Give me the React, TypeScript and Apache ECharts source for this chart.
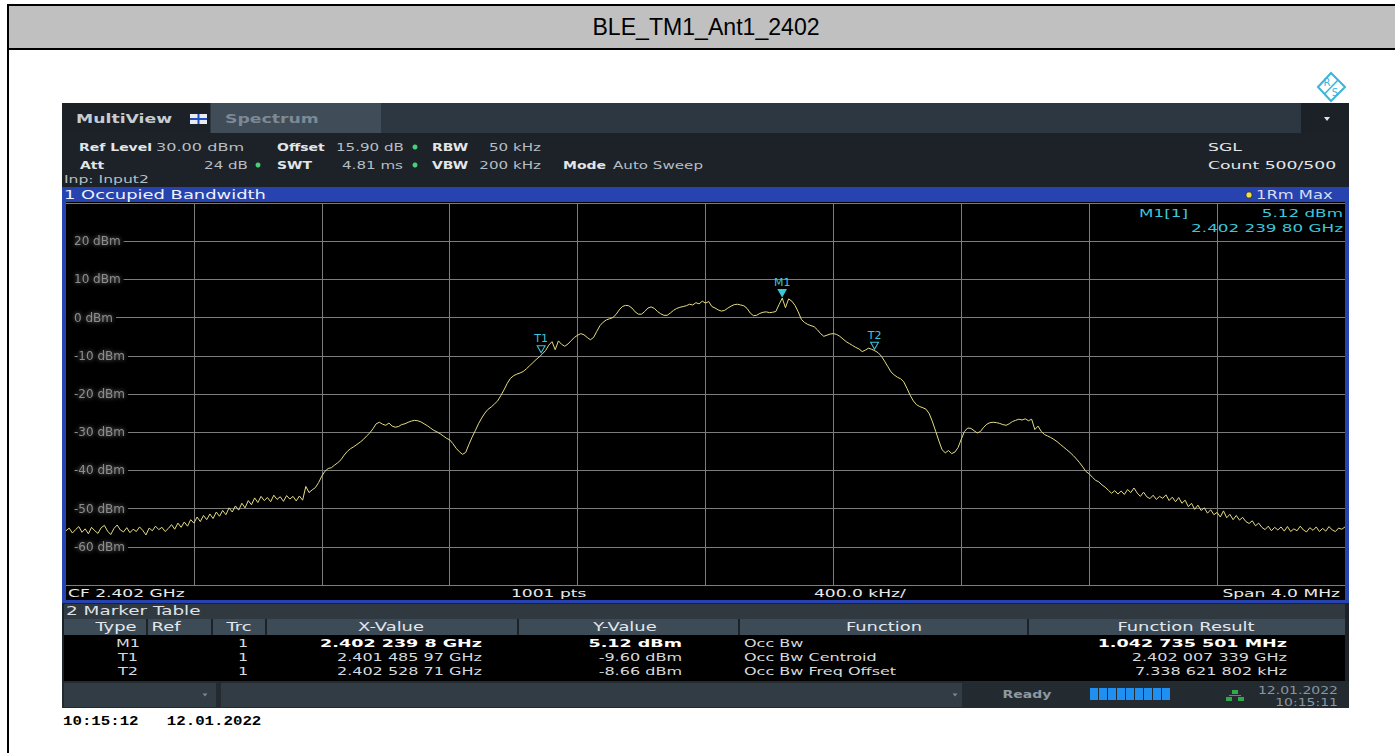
import React, { useEffect, useRef } from "react";
import * as echarts from "echarts";

// ---------------- data ----------------
const chartTitle = "BLE_TM1_Ant1_2402";
const startFreqMHz = 2400;
const stopFreqMHz = 2404;
const divisionMHz = 0.4;
const refLevelDbm = 30;
const bottomLevelDbm = -70;
const levelStepDb = 10;

// trace (max hold), 401 sweep points over the 4 MHz span (10 kHz apart)
const traceDbm: number[] = [
  -55.8, -55.1, -56.4, -55.5, -54.7, -56.2, -55.3, -56.6, -54.9, -55.8,
  -56.5, -55.0, -54.4, -55.9, -56.8, -55.2, -54.3, -55.6, -56.1, -55.0,
  -56.3, -55.4, -56.0, -54.8, -55.7, -56.9, -55.1, -55.8, -54.6, -55.5,
  -54.9, -56.0, -55.2, -54.2, -55.4, -53.8, -54.9, -53.5, -54.6, -52.9,
  -53.8, -52.2, -53.4, -51.8, -52.9, -51.4, -52.6, -50.9, -52.0, -50.5,
  -51.6, -49.8, -50.9, -49.3, -50.4, -48.6, -49.8, -47.9, -49.0, -47.2,
  -48.4, -46.8, -47.9, -47.1, -48.2, -46.5, -47.6, -46.9, -48.1, -46.6,
  -47.5, -46.8, -48.0, -46.7, -47.8, -44.2, -45.8, -45.1, -44.5, -43.2,
  -41.5, -40.2, -39.5, -39.3, -38.6, -38.0, -37.2, -36.0, -35.0, -34.3,
  -33.8, -33.2, -32.6, -31.9, -31.0, -30.2, -29.1, -27.8, -27.4, -27.9,
  -28.2, -27.6, -28.4, -28.7, -28.5, -28.0, -27.8, -27.4, -27.1, -26.9,
  -27.0, -27.3, -27.8, -28.3, -28.9, -29.5, -29.9, -30.4, -31.0, -31.6,
  -32.0, -33.0, -34.2, -35.1, -35.8, -35.3, -33.2, -31.3, -29.6, -27.8,
  -26.3, -25.0, -24.0, -23.4, -22.6, -21.8, -20.4, -18.9, -17.2, -15.9,
  -15.2, -14.8, -14.5, -14.1, -13.4, -12.6, -11.8, -11.0, -10.3, -9.5,
  -8.6, -7.2, -6.3, -8.4, -6.1, -7.0, -7.5, -6.9, -6.0, -5.2,
  -4.6, -4.2, -4.5, -5.2, -5.8, -5.2, -3.6, -2.1, -1.2, -0.6,
  -0.3, 0.0, 0.8, 2.0, 2.9, 3.2, 3.1, 2.5, 1.5, 0.9,
  0.9, 1.6, 2.5, 2.8, 2.4, 1.6, 1.0, 0.6, 0.6, 1.2,
  1.9, 2.4, 2.7, 2.9, 3.1, 3.5, 3.3, 3.9, 3.6, 4.3,
  3.8, 4.2, 2.9, 2.5, 2.0, 1.7, 1.9, 2.5, 3.0, 3.4,
  3.5, 3.3, 3.1, 2.4, 1.2, 0.5, 0.6, 1.1, 1.4, 1.5,
  1.3, 1.4, 1.6, 3.4, 5.1, 2.6, 4.9, 4.3, 3.2, 1.5,
  -0.5, -1.3, -1.8, -2.1, -2.4, -3.2, -4.2, -4.9, -4.6, -4.3,
  -4.2, -4.4, -4.9, -5.6, -6.3, -6.8, -7.3, -7.8, -8.2, -8.9,
  -8.5, -8.0, -8.3, -8.7, -9.2, -10.1, -11.4, -12.8, -14.2, -15.0,
  -15.6, -16.0, -16.8, -18.5, -20.3, -21.8, -22.8, -23.3, -23.6, -24.0,
  -25.2, -27.3, -29.8, -32.3, -34.6, -35.4, -34.8, -35.6, -35.2, -34.0,
  -31.8, -29.8, -28.9, -29.0, -29.6, -30.2, -29.8, -28.7, -27.9, -27.5,
  -27.4, -27.5, -27.7, -28.0, -28.2, -27.8, -27.2, -26.9, -26.6, -26.8,
  -26.5, -27.0, -26.6, -29.3, -28.4, -29.8, -30.6, -31.0, -31.4, -31.9,
  -32.5, -33.2, -33.9, -34.6, -35.3, -36.1, -37.0, -38.0, -39.1, -40.3,
  -40.9, -41.8, -42.6, -43.0, -43.8, -44.4, -45.2, -46.0, -45.3, -46.2,
  -45.4, -46.3, -45.0, -45.8, -44.6, -45.9, -46.8, -45.7, -46.9, -47.4,
  -46.5, -47.6, -46.8, -47.3, -46.4, -47.9, -47.0, -48.2, -47.1, -48.6,
  -47.8, -49.5, -48.6, -50.2, -49.1, -50.5, -49.8, -51.2, -50.3, -51.6,
  -51.0, -52.2, -50.6, -52.4, -51.5, -52.9, -51.8, -53.0, -52.3, -53.4,
  -53.9, -53.2, -54.5, -53.8, -54.9, -55.5, -54.6, -55.8, -54.9, -55.6,
  -54.8, -55.9, -54.7, -56.0, -55.3, -55.8, -54.6, -55.6, -56.1, -55.0,
  -55.7, -54.8, -56.0, -55.2, -55.9, -54.7, -55.6, -56.0, -55.1, -55.4,
  -54.8,
];

const markerNames = ["M1", "T1", "T2"];
const markerFreqMHz = [2402.2398, 2401.48597, 2402.52871];
const markerLevelDbm = [5.12, -9.6, -8.66];
const markerFilled = [true, false, false];

const tableHeaders = ["Type", "Ref", "Trc", "X-Value", "Y-Value", "Function", "Function Result"];
const tableTrc = ["1", "1", "1"];
const tableXText = ["2.402 239 8 GHz", "2.401 485 97 GHz", "2.402 528 71 GHz"];
const tableYText = ["5.12 dBm", "-9.60 dBm", "-8.66 dBm"];
const tableFunction = ["Occ Bw", "Occ Bw Centroid", "Occ Bw Freq Offset"];
const tableResult = ["1.042 735 501 MHz", "2.402 007 339 GHz", "7.338 621 802 kHz"];

// ---------------- helpers ----------------
const FONT = "DejaVu Sans";
const CYAN = "#3cc6da";

function tx(x: number, y: number, text: string, o: any = {}) {
  return {
    type: "text",
    x,
    y,
    scaleY: o.sy ?? 0.78,
    scaleX: o.sx ?? 1,
    z: o.z ?? 5,
    silent: true,
    style: {
      text,
      fill: o.c ?? "#d8dde2",
      fontSize: o.s ?? 14,
      fontWeight: o.b ? "bold" : "normal",
      fontFamily: o.f ?? FONT,
      align: o.a ?? "left",
      verticalAlign: "middle",
    },
  };
}
function rc(x: number, y: number, w: number, h: number, fill: string, o: any = {}) {
  return {
    type: "rect",
    z: o.z ?? 1,
    silent: true,
    shape: { x, y, width: w, height: h },
    style: { fill, stroke: o.stroke ?? null, lineWidth: o.lw ?? 0 },
  };
}
function ln(x1: number, y1: number, x2: number, y2: number, stroke: string, lw = 1, z = 2) {
  return { type: "line", z, silent: true, shape: { x1, y1, x2, y2 }, style: { stroke, lineWidth: lw } };
}
function tri(cx: number, cy: number, fill: string, w = 7, h = 4, z = 5) {
  return {
    type: "polygon",
    z,
    silent: true,
    shape: { points: [[cx - w / 2, cy - h / 2], [cx + w / 2, cy - h / 2], [cx, cy + h / 2]] },
    style: { fill },
  };
}
function dot(cx: number, cy: number, r: number, fill: string, stroke: string | null = null) {
  return { type: "circle", z: 5, silent: true, shape: { cx, cy, r }, style: { fill, stroke, lineWidth: 1 } };
}

function buildGraphic() {
  const g: any[] = [];
  // document chrome
  g.push(rc(8, 5, 1390, 44, "#c0c0c0", { stroke: "#000", lw: 2 }));
  g.push(ln(8, 49, 8, 753, "#000", 2));
  g.push(tx(706, 27, chartTitle, { s: 21, f: "Liberation Sans", c: "#000", sy: 1.12, sx: 1.1, a: "center" }));

  // R&S logo
  g.push({
    type: "polygon", z: 2, silent: true,
    shape: { points: [[1318, 87], [1331, 73], [1345, 87], [1331, 101]] },
    style: { fill: "#fff", stroke: "#3ab4dc", lineWidth: 2 },
  });
  g.push(ln(1324.5, 94, 1338, 80, "#3ab4dc", 1.5, 3));
  g.push(tx(1327, 82, "R", { s: 10, c: "#3ab4dc", sy: 1, a: "center" }));
  g.push(tx(1335, 92, "S", { s: 10, c: "#3ab4dc", sy: 1, a: "center" }));

  // instrument background
  g.push(rc(62, 103, 1287, 605, "#1c2227"));
  // multiview bar
  g.push(rc(62, 103, 1287, 30, "#2c3741"));
  g.push(rc(62, 103, 148, 30, "#1b2126"));
  g.push(rc(211, 103, 170, 30, "#404d58"));
  g.push(rc(1301, 103, 48, 30, "#1b2126"));
  g.push(tri(1327, 119, "#e0e4e8", 6, 4));
  g.push(tx(76, 119, "MultiView", { b: true, c: "#c5ccd2", s: 16, sx: 1.08, sy: 0.82 }));
  g.push(rc(190, 114, 17, 10, "#e8ecf0", { z: 3 }));
  g.push(ln(198.5, 114, 198.5, 124, "#2050c0", 2, 4));
  g.push(ln(190, 119, 207, 119, "#2050c0", 2, 4));
  g.push(tx(225, 119, "Spectrum", { b: true, c: "#7d8994", s: 16, sx: 1.08, sy: 0.82 }));

  // setting rows
  const B = "#e2e6ea";
  const V = "#b6bec5";
  const R = { c: V, sx: 1.08 };
  g.push(tx(79, 147, "Ref Level", { b: true, c: B }));
  g.push(tx(156, 147, "30.00 dBm", { ...R, sx: 1.15 }));
  g.push(tx(277, 147, "Offset", { b: true, c: B }));
  g.push(tx(336, 147, "15.90 dB", R));
  g.push(dot(415, 147, 2.5, "#49d07a"));
  g.push(tx(432, 147, "RBW", { b: true, c: B }));
  g.push(tx(541, 147, "50 kHz", { ...R, a: "right" }));

  g.push(tx(80, 165, "Att", { b: true, c: B }));
  g.push(tx(248, 165, "24 dB", { ...R, a: "right" }));
  g.push(dot(258, 165, 2.5, "#49d07a"));
  g.push(tx(277, 165, "SWT", { b: true, c: B }));
  g.push(tx(403, 165, "4.81 ms", { ...R, a: "right" }));
  g.push(dot(415, 165, 2.5, "#49d07a"));
  g.push(tx(432, 165, "VBW", { b: true, c: B }));
  g.push(tx(541, 165, "200 kHz", { ...R, a: "right" }));
  g.push(tx(563, 165, "Mode", { b: true, c: B }));
  g.push(tx(613, 165, "Auto Sweep", R));
  g.push(tx(64, 180, "Inp: Input2", { s: 13, c: V, sx: 1.2, sy: 0.78 }));

  g.push(tx(1208, 147, "SGL", { c: "#e2e6ea", s: 15, sx: 1.15, sy: 0.75 }));
  g.push(tx(1208, 165, "Count 500/500", { c: "#e2e6ea", s: 15, sx: 1.15, sy: 0.75 }));

  // blue window frame + title
  g.push(rc(62, 187, 1287, 416, "#2643b0"));
  g.push(rc(66, 202, 1279, 398, "#000000", { z: 1 }));
  g.push(tx(64, 195, "1 Occupied Bandwidth", { c: "#eef2fa", s: 16, sx: 1.12, sy: 0.74 }));
  g.push(dot(1249, 195, 3.2, "#f0e040", "#333"));
  g.push(tx(1256, 195, "1Rm Max", { c: "#d6def0", s: 15, sx: 1.09, sy: 0.76 }));

  // marker readout
  const MR = { c: CYAN, s: 15, sx: 1.12, sy: 0.75 };
  g.push(tx(1139, 213, "M1[1]", MR));
  g.push(tx(1343, 213, markerLevelDbm[0].toFixed(2) + " dBm", { ...MR, a: "right" }));
  g.push(tx(1343, 228, "2.402 239 80 GHz", { ...MR, a: "right" }));

  // plot footer
  const FT = { c: "#eaeaea", s: 15, sx: 1.14, sy: 0.74 };
  g.push(tx(68, 593, "CF 2.402 GHz", FT));
  g.push(tx(511, 593, "1001 pts", FT));
  g.push(tx(814, 593, "400.0 kHz/", FT));
  g.push(tx(1340, 593, "Span 4.0 MHz", { ...FT, a: "right" }));

  // marker table
  g.push(rc(64, 604, 1281, 15, "#30393f"));
  g.push(tx(66, 611, "2 Marker Table", { c: "#dde2e6", s: 16, sx: 1.15, sy: 0.72 }));
  g.push(rc(64, 619, 1281, 16, "#3d4b57"));
  const seps = [147, 212, 266, 518, 739, 1028];
  seps.forEach((s) => g.push(ln(s, 619, s, 635, "#1c2227", 2, 3)));
  const hdrCenters = [116, 166, 239, 391, 625, 884, 1186];
  tableHeaders.forEach((h, i) =>
    g.push(tx(hdrCenters[i], 627, h, { c: "#e2e7ec", a: "center", s: 16, sx: 1.12, sy: 0.72 }))
  );
  g.push(rc(64, 635, 1281, 46, "#000000"));
  const rowY = [643, 657, 671];
  const TR = { c: "#d6dadd", s: 15, sx: 1.07, sy: 0.74 };
  const TB = { c: "#ffffff", s: 15, sx: 1.17, sy: 0.74, b: true };
  markerNames.forEach((m, i) => {
    const bold = i === 0;
    const st = bold ? TB : TR;
    g.push(tx(128, rowY[i], m, { ...TR, a: "center" }));
    g.push(tx(243, rowY[i], tableTrc[i], { ...TR, a: "center" }));
    g.push(tx(482, rowY[i], tableXText[i], { ...st, a: "right" }));
    g.push(tx(682, rowY[i], tableYText[i], { ...st, a: "right" }));
    g.push(tx(744, rowY[i], tableFunction[i], TR));
    g.push(tx(1287, rowY[i], tableResult[i], { ...st, a: "right" }));
  });

  // status bar
  g.push(rc(62, 681, 1287, 27, "#232b31"));
  g.push(rc(64, 683, 152, 24, "#323c45"));
  g.push(rc(221, 683, 741, 24, "#323c45"));
  g.push(tri(205, 695, "#7c8790", 5, 3));
  g.push(tri(955, 695, "#7c8790", 5, 3));
  g.push(tx(1027, 694, "Ready", { b: true, c: "#8e99a2", a: "center", s: 14, sy: 0.78 }));
  for (let k = 0; k < 9; k++) {
    g.push(rc(1090 + k * 9, 688, 8, 12, "#1f8ff0", { z: 3 }));
  }
  g.push(rc(1232, 690, 6, 4, "#2faa4a", { z: 3 }));
  g.push(rc(1226, 697, 6, 4, "#2faa4a", { z: 3 }));
  g.push(rc(1238, 697, 6, 4, "#2faa4a", { z: 3 }));
  g.push(ln(1229, 695.5, 1241, 695.5, "#2faa4a", 1, 3));
  g.push(tx(1338, 690, "12.01.2022", { c: "#8a959e", a: "right", s: 14, sy: 0.76 }));
  g.push(tx(1338, 702, "10:15:11", { c: "#8a959e", a: "right", s: 14, sy: 0.76 }));

  // printed time stamp
  g.push(tx(63, 721, "10:15:12   12.01.2022", { f: "Liberation Mono", b: true, s: 15, sx: 1.05, c: "#000", sy: 0.85 }));
  return g;
}

export default function App() {
  const ref = useRef<HTMLDivElement>(null);
  useEffect(() => {
    if (!ref.current) return;
    const chart = echarts.init(ref.current, null, { renderer: "svg", width: 1395, height: 753 });
    const n = traceDbm.length;
    const step = (stopFreqMHz - startFreqMHz) / (n - 1);
    const seriesData = traceDbm.map((v, i) => [startFreqMHz + i * step, v]);

    const markData = markerNames.map((name, i) => ({
      name,
      coord: [markerFreqMHz[i], markerLevelDbm[i]],
      itemStyle: markerFilled[i]
        ? { color: CYAN, borderColor: CYAN, borderWidth: 1 }
        : { color: "rgba(0,0,0,0)", borderColor: CYAN, borderWidth: 1 },
    }));

    const axisCommon = {
      type: "value",
      min: bottomLevelDbm,
      max: refLevelDbm,
      interval: levelStepDb,
      axisLine: { show: false },
      axisTick: { show: false },
    };

    chart.setOption({
      animation: false,
      backgroundColor: "#ffffff",
      grid: { left: 66, top: 203, width: 1279, height: 382, show: false },
      xAxis: {
        type: "value",
        min: startFreqMHz,
        max: stopFreqMHz,
        interval: divisionMHz,
        z: 3,
        axisLine: { show: false },
        axisTick: { show: false },
        axisLabel: { show: false },
        splitLine: { show: true, showMinLine: false, showMaxLine: false, lineStyle: { color: "#7c7c7c", width: 1 } },
      },
      yAxis: [
        {
          ...axisCommon,
          z: 3,
          axisLabel: { show: false },
          splitLine: { show: true, lineStyle: { color: "#7c7c7c", width: 1 } },
        },
        {
          ...axisCommon,
          z: 4,
          position: "left",
          splitLine: { show: false },
          axisLabel: {
            show: true,
            inside: true,
            margin: 0,
            showMinLabel: false,
            showMaxLabel: false,
            formatter: (v: number) => `${v} dBm`,
            color: "#8c8c8c",
            fontFamily: FONT,
            fontSize: 12,
            backgroundColor: "#000",
            padding: [1, 3, 1, 8],
            textShadowColor: "rgba(190,190,190,0.7)",
            textShadowBlur: 4,
          },
        },
      ],
      series: [
        {
          type: "line",
          yAxisIndex: 0,
          data: seriesData,
          showSymbol: false,
          z: 6,
          lineStyle: { color: "#e4dc84", width: 1 },
          silent: true,
          markPoint: {
            symbol: "triangle",
            symbolRotate: 180,
            symbolSize: [8, 7],
            symbolOffset: [0, -5],
            silent: true,
            label: {
              show: true,
              position: "top",
              distance: 1,
              formatter: "{b}",
              color: CYAN,
              fontFamily: FONT,
              fontSize: 11,
            },
            data: markData,
          },
        },
      ],
      graphic: { elements: buildGraphic() },
    });
    return () => chart.dispose();
  }, []);
  return (
    <div
      ref={ref}
      style={{ position: "fixed", left: 0, top: 0, width: 1395, height: 753, background: "#fff" }}
    />
  );
}
